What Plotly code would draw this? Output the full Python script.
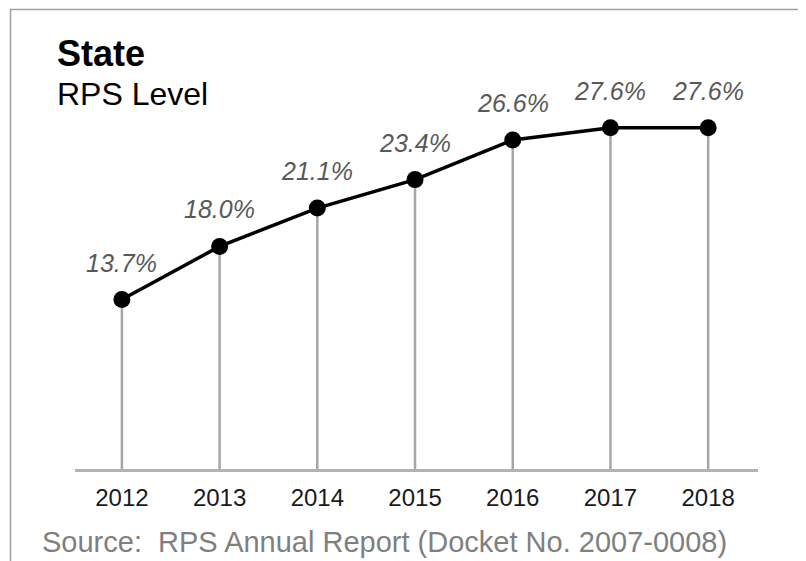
import plotly.graph_objects as go

years = ["2012", "2013", "2014", "2015", "2016", "2017", "2018"]
rps_level = [13.7, 18.0, 21.1, 23.4, 26.6, 27.6, 27.6]
labels = ["13.7%", "18.0%", "21.1%", "23.4%", "26.6%", "27.6%", "27.6%"]

FONT = "Liberation Sans, Arial, sans-serif"

# page body has an 8px margin; work in page pixels and convert
OFF = 8
PAGE_W, PAGE_H = 806, 561
W, H = PAGE_W - OFF, PAGE_H - OFF
# plot area in page pixels
PL, PR, PT, PB = 75, 758, 98, 469
L, T = PL - OFF, PT - OFF
R, B = W - (PR - OFF), H - (PB - OFF)
pw, ph = PR - PL, PB - PT

def px(xp):
    return (xp - PL) / pw

def py(yp):
    return (PB - yp) / ph

fig = go.Figure()

# vertical drop lines from each point to the baseline
drop_x, drop_y = [], []
for i, v in enumerate(rps_level):
    drop_x += [i, i, None]
    drop_y += [0, v, None]
fig.add_trace(go.Scatter(x=drop_x, y=drop_y, mode="lines",
                         line=dict(color="#a6a6a6", width=2.5),
                         hoverinfo="skip", showlegend=False))

xs = list(range(len(years)))
fig.add_trace(go.Scatter(x=xs, y=rps_level, mode="lines+markers",
                         line=dict(color="#000000", width=3.5),
                         marker=dict(color="#000000", size=17),
                         showlegend=False))

for i, (v, t) in enumerate(zip(rps_level, labels)):
    fig.add_annotation(x=i, y=v, text="<i>" + t + "</i>", showarrow=False,
                       yanchor="middle", yshift=37,
                       font=dict(family=FONT, size=25, color="#595959"))

fig.add_annotation(xref="paper", yref="paper", x=px(55), y=py(53), xanchor="left",
                   yanchor="middle", showarrow=False, text="<b>State</b>",
                   font=dict(family=FONT, size=36, color="#000000"))
fig.add_annotation(xref="paper", yref="paper", x=px(55), y=py(94), xanchor="left",
                   yanchor="middle", showarrow=False, text="RPS Level",
                   font=dict(family=FONT, size=32, color="#000000"))
fig.add_annotation(xref="paper", yref="paper", x=px(40), y=py(542), xanchor="left",
                   yanchor="middle", showarrow=False,
                   text="Source:  RPS Annual Report (Docket No. 2007-0008)",
                   font=dict(family=FONT, size=29, color="#7f7f7f"))

fig.add_shape(type="rect", xref="paper", yref="paper",
              x0=px(10.5), x1=px(804.5), y0=py(9.5), y1=py(620),
              line=dict(color="#a0a0a0", width=1.5), layer="below")

fig.update_xaxes(range=[-0.48, 6.51], tickmode="array", tickvals=xs, ticktext=years,
                 showgrid=False, zeroline=False, showline=True,
                 linecolor="#b3b3b3", linewidth=2.5, ticks="",
                 ticklabelstandoff=5,
                 tickfont=dict(family=FONT, size=24, color="#1a1a1a"))
fig.update_yaxes(range=[0, 30], visible=False, showgrid=False, zeroline=False)

fig.update_layout(width=W, height=H, margin=dict(l=L, r=R, t=T, b=B),
                  paper_bgcolor="#ffffff", plot_bgcolor="#ffffff",
                  font=dict(family=FONT))

fig.write_html("out.html")
